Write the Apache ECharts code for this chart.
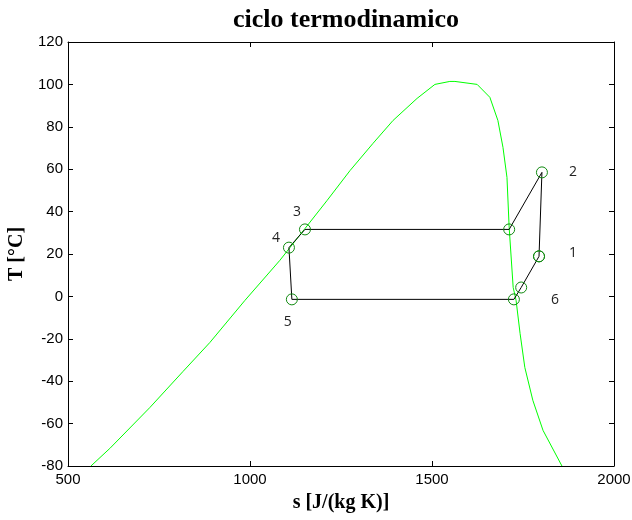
<!DOCTYPE html>
<html>
<head>
<meta charset="utf-8">
<script src="https://cdn.jsdelivr.net/npm/echarts@6/dist/echarts.min.js"></script>
<style>
  html, body { margin: 0; padding: 0; background: #fff; }
  #chart { width: 632px; height: 520px; }
</style>
</head>
<body>
<div id="chart"></div>
<script>
// Saturation dome (entropy s in J/(kg K), temperature T in °C)
const domeS = [563, 615, 725, 816, 890, 986, 1082, 1151, 1212, 1275, 1338, 1393, 1459, 1508, 1549, 1563,
               1624, 1659, 1681, 1695, 1706, 1712, 1723, 1731, 1742, 1755, 1777, 1805, 1857];
const domeT = [-80, -71.7, -52.4, -35.4, -21.7, -1.9, 17, 32, 45.3, 59.4, 72.2, 83, 93.4, 100, 101.4, 101.4,
               100, 93.9, 83, 70.3, 56.1, 32.5, 4.2, -1.9, -17.5, -33.5, -49, -63.2, -80];

// Refrigeration cycle states, in drawing order (closed loop)
const cycleS = [1794, 1802, 1712, 1151, 1107, 1115, 1725, 1745, 1794];
const cycleT = [18.9, 58.5, 31.6, 31.6, 23, -1.4, -1.4, 4.2, 18.9];
const cycleNames = ['1', '2', '', '3', '4', '5', '6', '', ''];

// Axis ticks
const xTicks = [500, 1000, 1500, 2000];
const yTicks = [-80, -60, -40, -20, 0, 20, 40, 60, 80, 100, 120];

// Label placement around each state marker
const labelOffsets = {
  '1': [34, -3], '2': [31, 0], '3': [-8, -17], '4': [-13, -10], '5': [-4, 23], '6': [41, 1]
};

const xMin = xTicks[0], xMax = xTicks[xTicks.length - 1];
const yMin = yTicks[0], yMax = yTicks[yTicks.length - 1];

const tickFont = { fontFamily: 'Liberation Sans', fontSize: 15, color: '#000', formatter: v => String(v) };

const domeData = domeS.map((s, i) => [s, domeT[i]]);
const cycleData = cycleS.map((s, i) => {
  const name = cycleNames[i];
  const item = { value: [s, cycleT[i]] };
  if (name && i < cycleS.length - 1) {
    item.label = {
      show: true,
      formatter: name,
      position: 'inside',
      offset: labelOffsets[name],
      fontFamily: 'Open Sans',
      fontSize: 14,
      color: '#222'
    };
  }
  return item;
});

const baseX = {
  type: 'value', min: xMin, max: xMax, interval: 500,
  splitLine: { show: false },
  axisLine: { show: true, onZero: false, lineStyle: { color: '#000', width: 1 } },
  axisTick: { show: true, inside: true, length: 5, lineStyle: { color: '#000' } }
};
const baseY = {
  type: 'value', min: yMin, max: yMax, interval: 20,
  splitLine: { show: false },
  axisLine: { show: true, onZero: false, lineStyle: { color: '#000', width: 1 } },
  axisTick: { show: true, inside: true, length: 5, lineStyle: { color: '#000' } }
};

const nameFont = { fontFamily: 'Liberation Serif', fontWeight: 'bold', fontSize: 20, color: '#000' };

const chart = echarts.init(document.getElementById('chart'), null, { renderer: 'canvas' });
chart.setOption({
  animation: false,
  backgroundColor: '#fff',
  title: {
    text: 'ciclo termodinamico',
    left: 341, top: 2, textAlign: 'center',
    textStyle: { fontFamily: 'Liberation Serif', fontWeight: 'bold', fontSize: 26, color: '#000' }
  },
  grid: { left: 68, right: 18, top: 42, bottom: 54, containLabel: false, outerBoundsMode: 'none' },
  xAxis: [
    Object.assign({}, baseX, {
      position: 'bottom',
      name: 's [J/(kg K)]', nameLocation: 'middle', nameGap: 27,
      nameTextStyle: nameFont,
      axisLabel: Object.assign({ margin: 6 }, tickFont)
    }),
    Object.assign({}, baseX, { position: 'top', axisLabel: { show: false } })
  ],
  yAxis: [
    Object.assign({}, baseY, {
      position: 'left',
      name: 'T [°C]', nameLocation: 'middle', nameGap: 38, nameRotate: 90,
      nameTextStyle: nameFont,
      axisLabel: Object.assign({ margin: 5 }, tickFont)
    }),
    Object.assign({}, baseY, { position: 'right', axisLabel: { show: false } })
  ],
  series: [
    {
      type: 'line',
      data: domeData,
      showSymbol: false,
      symbol: 'none',
      lineStyle: { color: '#00ff00', width: 1 },
      z: 2
    },
    {
      type: 'line',
      data: cycleData,
      symbol: 'circle',
      symbolSize: 11,
      showSymbol: true,
      lineStyle: { color: '#000', width: 1 },
      itemStyle: { color: 'rgba(0,0,0,0)', borderColor: '#108a10', borderWidth: 1 },
      label: { show: false },
      z: 3
    }
  ]
});
</script>
</body>
</html>
